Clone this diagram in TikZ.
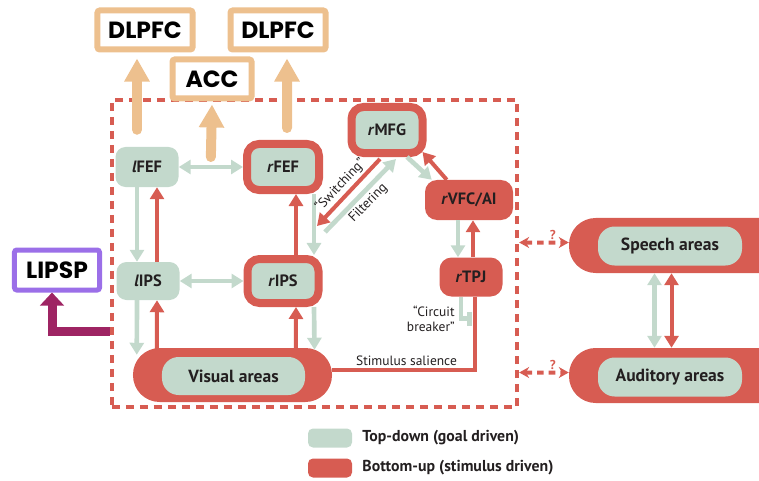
\documentclass[tikz,border=0pt]{standalone}
\usepackage{fontspec}
\setmainfont{PT Sans}
\newfontfamily\boxfont{Poppins}
\usetikzlibrary{arrows.meta,calc}

\definecolor{redbu}{HTML}{D75C52}
\definecolor{greentd}{HTML}{C3D9CC}
\definecolor{tanbox}{HTML}{EDC08E}
\definecolor{purplebox}{HTML}{9B6FE8}
\definecolor{magarrow}{HTML}{9E2463}
\definecolor{textdark}{HTML}{231F20}

\tikzset{
  ctip/.tip={Triangle[length=0.36cm,width=0.42cm]},
  region/.style={text=textdark, font=\fontsize{14}{16}\selectfont\bfseries, inner sep=0pt, rounded corners=0.3cm},
  tdbox/.style={region, fill=greentd},
  bubox/.style={region, fill=redbu, rounded corners=0.36cm},
  mixbox/.style={region, fill=greentd, draw=redbu, line width=0.24cm, rounded corners=0.36cm},
  pillout/.style={fill=redbu, rounded corners=0.8cm, inner sep=0pt},
  pillin/.style={region, fill=greentd, rounded corners=0.5cm, font=\fontsize{15}{18}\selectfont\bfseries},
  outbox/.style={draw=tanbox, line width=0.18cm, fill=white, rounded corners=2pt, inner sep=0pt,
    minimum height=1.17cm, font=\boxfont\fontsize{20}{24}\selectfont\bfseries},
  lipsbox/.style={draw=purplebox, line width=0.15cm, fill=white, rounded corners=2pt, inner sep=0pt,
    minimum width=2.55cm, minimum height=1.2cm, font=\boxfont\fontsize{20}{24}\selectfont\bfseries},
  frame/.style={draw=redbu, line width=0.13cm, dash pattern=on 0.24cm off 0.18cm, inner sep=0pt},
  tdarr/.style={draw=greentd, line width=0.14cm, -ctip},
  buarr/.style={draw=redbu, line width=0.12cm, -ctip},
  tdboth/.style={draw=greentd, line width=0.14cm, ctip-ctip},
  buboth/.style={draw=redbu, line width=0.12cm, ctip-ctip},
  buline/.style={draw=redbu, line width=0.12cm},
  tdbar/.style={draw=greentd, line width=0.14cm, -{Bar[width=0.42cm,line width=0.15cm]}},
  outarr/.style={draw=tanbox, line width=0.3cm, line cap=round, -{Triangle[length=0.69cm,width=0.72cm]}},
  lipsarr/.style={draw=magarrow, line width=0.27cm, -{Triangle[length=0.39cm,width=0.7cm]}},
  qlink/.style={draw=redbu, line width=0.12cm, dash pattern=on 0.2cm off 0.15cm,
    {Stealth[length=0.3cm,width=0.33cm]}-{Stealth[length=0.3cm,width=0.33cm]}},
  qmark/.style={text=redbu, font=\fontsize{11}{13}\selectfont\bfseries, inner sep=1pt},
  note/.style={text=textdark, font=\fontsize{11.5}{13}\selectfont, inner sep=2pt},
  keytext/.style={text=textdark, anchor=west, inner sep=0pt, font=\fontsize{13.5}{16}\selectfont\bfseries}
}

\begin{document}
\begin{tikzpicture}[x=0.03cm,y=-0.03cm]
\useasboundingbox (0,0) rectangle (759,481);
\clip (0,0) rectangle (759,481);

\node[frame, minimum width=12.15cm, minimum height=9.21cm] (frame) at (314.5,253.5) {};

\node[outbox, minimum width=2.85cm] (dlpfcl) at (145,30) {DLPFC};
\node[outbox, minimum width=2.85cm] (dlpfcr) at (278,30) {DLPFC};
\node[outbox, minimum width=2.37cm] (acc) at (212,79) {ACC};
\node[lipsbox] (lipsp) at (57,270) {LIPSP};

\node[tdbox, minimum width=1.89cm, minimum height=1.2cm] (lfef) at (147,167) {\textit{l}FEF};
\node[mixbox, minimum width=2.16cm, minimum height=1.38cm] (rfef) at (283,167) {\textit{r}FEF};
\node[mixbox, minimum width=2.13cm, minimum height=1.38cm] (rmfg) at (387,130) {\textit{r}MFG};
\node[bubox, minimum width=2.64cm, minimum height=1.2cm] (rvfc) at (469,200) {\textit{r}VFC/AI};
\node[tdbox, minimum width=1.89cm, minimum height=1.14cm] (lips) at (148,281) {\textit{l}IPS};
\node[mixbox, minimum width=2.13cm, minimum height=1.32cm] (rips) at (283,281) {\textit{r}IPS};
\node[bubox, minimum width=1.89cm, minimum height=1.17cm] (rtpj) at (471,277) {\textit{r}TPJ};

\node[pillout, minimum width=5.97cm, minimum height=1.62cm] (vis) at (232.5,375) {};
\node[pillin, minimum width=4.29cm, minimum height=1.14cm] (visin) at (233.5,376) {Visual areas};
\node[pillout, minimum width=6.63cm, minimum height=1.65cm] (speech) at (679.5,245.5) {};
\node[pillin, minimum width=4.32cm, minimum height=1.17cm] (speechin) at (670,246) {Speech areas};
\node[pillout, minimum width=6.63cm, minimum height=1.65cm] (aud) at (679.5,375.5) {};
\node[pillin, minimum width=4.32cm, minimum height=1.17cm] (audin) at (670,377) {Auditory areas};

\node[fill=greentd, rounded corners=0.15cm, minimum width=1.32cm, minimum height=0.57cm] (keytd) at (330,438) {};
\node[keytext] (keytdtext) at ([xshift=0.3cm]keytd.east) {Top-down (goal driven)};
\node[fill=redbu, rounded corners=0.15cm, minimum width=1.32cm, minimum height=0.57cm] (keybu) at (330,468) {};
\node[keytext] (keybutext) at ([xshift=0.3cm]keybu.east) {Bottom-up (stimulus driven)};

\draw[tdboth] (lfef) -- (rfef);
\draw[tdboth] (lips) -- (rips);
\draw[tdarr] ([xshift=-0.3cm]lfef.south) -- ([xshift=-0.33cm]lips.north);
\draw[buarr] ([xshift=0.27cm]lips.north) -- ([xshift=0.3cm]lfef.south);
\draw[tdarr] ([xshift=-0.33cm]lips.south) -- ([xshift=0.12cm,yshift=-0.21cm]vis.north west);
\draw[buarr] ([xshift=0.72cm,yshift=-0.1cm]vis.north west) -- ([xshift=0.27cm]lips.south);
\draw[buarr] ([xshift=0.39cm]rips.north) -- ([xshift=0.39cm]rfef.south);
\draw[tdarr] ([xshift=0.93cm]rfef.south) -- ([xshift=0.93cm]rips.north);
\draw[buarr] ([xshift=1.9cm,yshift=-0.1cm]vis.north) -- ([xshift=0.39cm]rips.south);
\draw[tdarr] ([xshift=0.93cm]rips.south) -- ([xshift=2.46cm,yshift=-0.06cm]vis.north);

\coordinate (swend) at (317,226);
\coordinate (filtstart) at (325,232);
\draw[buarr] ([xshift=-0.21cm,yshift=-0.06cm]rmfg.south) -- node[note, sloped, above] {“Switching”} (swend);
\draw[tdarr] (filtstart) -- node[note, sloped, below] {Filtering} ([xshift=0.27cm,yshift=-0.06cm]rmfg.south);
\draw[tdarr] ([xshift=0.6cm]rmfg.south) -- ([xshift=0.21cm]rvfc.north west);
\draw[buarr] ([xshift=0.66cm]rvfc.north west) -- ([xshift=-0.12cm,yshift=0.15cm]rmfg.south east);
\draw[tdarr] ([xshift=-0.33cm]rvfc.south) -- ([xshift=-0.39cm]rtpj.north);
\draw[buarr] ([xshift=0.06cm]rtpj.north) -- ([xshift=0.12cm]rvfc.south);
\draw[tdbar] ([xshift=-0.3cm]rtpj.south) |- node[note, pos=0.5, left=0.05cm, align=right] {“Circuit\\breaker”} ([xshift=0.03cm,yshift=-0.66cm]rtpj.south);
\draw[buline] ([xshift=0.12cm]rtpj.south) |- node[note, pos=0.74, above] {Stimulus salience} ([yshift=0.15cm]vis.east);

\draw[qlink] ([yshift=0.33cm]frame.east) -- node[qmark, pos=0.68, above] {?} ([yshift=0.09cm]speech.west);
\draw[qlink] ([yshift=-3.57cm]frame.east) -- node[qmark, pos=0.68, above] {?} ([yshift=0.09cm]aud.west);
\draw[tdboth] ([xshift=-0.75cm]speech.south) -- ([xshift=-0.75cm]aud.north);
\draw[buboth] ([xshift=-0.24cm]speech.south) -- ([xshift=-0.24cm]aud.north);

\draw[outarr] ([xshift=-0.3cm,yshift=0.51cm]lfef.north) -- ([xshift=-0.24cm,yshift=-0.18cm]dlpfcl.south);
\draw[outarr] ($(lfef.east)!0.5!(rfef.west)+(0,0.3cm)$) -- ([yshift=-0.09cm]acc.south);
\draw[outarr] ([xshift=0.12cm,yshift=0.36cm]rfef.north) -- ([xshift=0.27cm,yshift=-0.18cm]dlpfcr.south);
\draw[lipsarr] ([yshift=-2.34cm]frame.west) -| ([xshift=-0.15cm]lipsp.south);
\end{tikzpicture}
\end{document}
